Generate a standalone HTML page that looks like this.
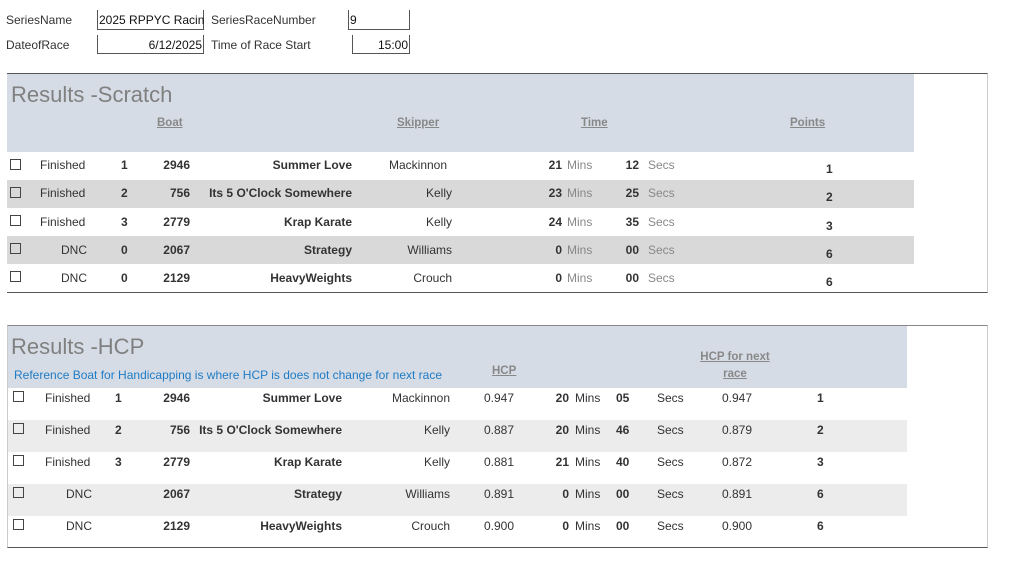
<!DOCTYPE html>
<html><head><meta charset="utf-8">
<style>
body{margin:0;width:1023px;height:568px;background:#fff;position:relative;overflow:hidden;font-family:"Liberation Sans",sans-serif;font-size:12px;color:#333}
.a{position:absolute;white-space:nowrap;line-height:16px;height:16px}
.r{text-align:right}
.c{text-align:center}
.b{font-weight:bold}
.g{color:#888}
.u{text-decoration:underline;color:#888;font-weight:bold;font-size:11.5px}
.box{position:absolute;border:1px solid #555;box-sizing:border-box}
.cb{position:absolute;width:9px;height:9px;border:1px solid #444}
.bg{position:absolute}
</style></head><body>
<div class="a" style="left:6px;top:12px">SeriesName</div>
<div class="box" style="left:97px;top:10px;width:107px;height:20px;border-top:none"></div>
<div class="a" style="left:99px;top:12px;color:#111">2025 RPPYC Racin</div>
<div class="a" style="left:211px;top:12px">SeriesRaceNumber</div>
<div class="box" style="left:348px;top:10px;width:62px;height:20px;border-top:none"></div>
<div class="a" style="left:350px;top:12px;color:#111">9</div>
<div class="a" style="left:6px;top:37px">DateofRace</div>
<div class="box" style="left:97px;top:35px;width:107px;height:19px;border-top:none"></div>
<div class="a r" style="left:100px;width:102px;top:37px;color:#111">6/12/2025</div>
<div class="a" style="left:211px;top:37px">Time of Race Start</div>
<div class="box" style="left:352px;top:35px;width:58px;height:19px;border-top:none"></div>
<div class="a r" style="left:354px;width:54px;top:37px;color:#111">15:00</div>

<!-- Scratch -->
<div class="bg" style="left:7px;top:73px;width:981px;height:220px;border-top:1px solid #555;border-bottom:1px solid #555;border-right:1px solid #ccc;box-sizing:border-box"></div>
<div class="bg" style="left:7px;top:74px;width:907px;height:78px;background:#d6dce5"></div>
<div class="bg" style="left:7px;top:180px;width:907px;height:28px;background:#d9d9d9"></div>
<div class="bg" style="left:7px;top:236px;width:907px;height:28px;background:#d9d9d9"></div>
<div class="a" style="left:11px;top:82px;font-size:22px;line-height:26px;height:26px;color:#808080">Results -Scratch</div>
<div class="a u" style="left:157px;top:115px">Boat</div>
<div class="a u" style="left:397px;top:115px">Skipper</div>
<div class="a u" style="left:581px;top:115px">Time</div>
<div class="a u" style="left:790px;top:115px">Points</div>

<div class="cb" style="left:10px;top:159px"></div><div class="a" style="left:40px;top:157px">Finished</div><div class="a b" style="left:121px;top:157px">1</div><div class="a b r" style="left:140px;width:50px;top:157px">2946</div><div class="a b r" style="left:180px;width:172px;top:157px">Summer Love</div><div class="a" style="left:389px;top:157px">Mackinnon</div><div class="a b r" style="left:530px;width:32px;top:157px">21</div><div class="a g" style="left:567px;top:157px">Mins</div><div class="a b r" style="left:610px;width:29px;top:157px">12</div><div class="a g" style="left:648px;top:157px">Secs</div><div class="a b" style="left:826px;top:161px">1</div>

<div class="cb" style="left:10px;top:187px"></div><div class="a" style="left:40px;top:185px">Finished</div><div class="a b" style="left:121px;top:185px">2</div><div class="a b r" style="left:140px;width:50px;top:185px">756</div><div class="a b r" style="left:180px;width:172px;top:185px">Its 5 O'Clock Somewhere</div><div class="a r" style="left:380px;width:72px;top:185px">Kelly</div><div class="a b r" style="left:530px;width:32px;top:185px">23</div><div class="a g" style="left:567px;top:185px">Mins</div><div class="a b r" style="left:610px;width:29px;top:185px">25</div><div class="a g" style="left:648px;top:185px">Secs</div><div class="a b" style="left:826px;top:189px">2</div>

<div class="cb" style="left:10px;top:215px"></div><div class="a" style="left:40px;top:214px">Finished</div><div class="a b" style="left:121px;top:214px">3</div><div class="a b r" style="left:140px;width:50px;top:214px">2779</div><div class="a b r" style="left:180px;width:172px;top:214px">Krap Karate</div><div class="a r" style="left:380px;width:72px;top:214px">Kelly</div><div class="a b r" style="left:530px;width:32px;top:214px">24</div><div class="a g" style="left:567px;top:214px">Mins</div><div class="a b r" style="left:610px;width:29px;top:214px">35</div><div class="a g" style="left:648px;top:214px">Secs</div><div class="a b" style="left:826px;top:218px">3</div>

<div class="cb" style="left:10px;top:243px"></div><div class="a r" style="left:40px;width:47px;top:242px">DNC</div><div class="a b" style="left:121px;top:242px">0</div><div class="a b r" style="left:140px;width:50px;top:242px">2067</div><div class="a b r" style="left:180px;width:172px;top:242px">Strategy</div><div class="a r" style="left:380px;width:72px;top:242px">Williams</div><div class="a b r" style="left:530px;width:32px;top:242px">0</div><div class="a g" style="left:567px;top:242px">Mins</div><div class="a b r" style="left:610px;width:29px;top:242px">00</div><div class="a g" style="left:648px;top:242px">Secs</div><div class="a b" style="left:826px;top:246px">6</div>

<div class="cb" style="left:10px;top:271px"></div><div class="a r" style="left:40px;width:47px;top:270px">DNC</div><div class="a b" style="left:121px;top:270px">0</div><div class="a b r" style="left:140px;width:50px;top:270px">2129</div><div class="a b r" style="left:180px;width:172px;top:270px">HeavyWeights</div><div class="a r" style="left:380px;width:72px;top:270px">Crouch</div><div class="a b r" style="left:530px;width:32px;top:270px">0</div><div class="a g" style="left:567px;top:270px">Mins</div><div class="a b r" style="left:610px;width:29px;top:270px">00</div><div class="a g" style="left:648px;top:270px">Secs</div><div class="a b" style="left:826px;top:274px">6</div>

<!-- HCP -->
<div class="bg" style="left:7px;top:325px;width:981px;height:223px;border-top:1px solid #888;border-bottom:1px solid #555;border-right:1px solid #ccc;border-left:1px solid #ccc;box-sizing:border-box"></div>
<div class="bg" style="left:8px;top:326px;width:899px;height:62px;background:#d6dce5"></div>
<div class="bg" style="left:8px;top:420px;width:899px;height:32px;background:#ececec"></div>
<div class="bg" style="left:8px;top:484px;width:899px;height:32px;background:#ececec"></div>
<div class="a" style="left:11px;top:334px;font-size:22px;line-height:26px;height:26px;color:#808080">Results -HCP</div>
<div class="a" style="left:14px;top:367px;color:#1f7bc4">Reference Boat for Handicapping is where HCP is does not change for next race</div>
<div class="a u" style="left:492px;top:363px">HCP</div>
<div class="a u c" style="left:690px;width:90px;top:349px">HCP for next</div>
<div class="a u c" style="left:690px;width:90px;top:366px">race</div>

<div class="cb" style="left:13px;top:391px"></div><div class="a" style="left:45px;top:390px">Finished</div><div class="a b" style="left:115px;top:390px">1</div><div class="a b r" style="left:140px;width:50px;top:390px">2946</div><div class="a b r" style="left:170px;width:172px;top:390px">Summer Love</div><div class="a r" style="left:370px;width:80px;top:390px">Mackinnon</div><div class="a" style="left:484px;top:390px">0.947</div><div class="a b r" style="left:540px;width:29px;top:390px">20</div><div class="a" style="left:575px;top:390px">Mins</div><div class="a b" style="left:616px;top:390px">05</div><div class="a" style="left:657px;top:390px">Secs</div><div class="a" style="left:722px;top:390px">0.947</div><div class="a b" style="left:817px;top:390px">1</div>

<div class="cb" style="left:13px;top:423px"></div><div class="a" style="left:45px;top:422px">Finished</div><div class="a b" style="left:115px;top:422px">2</div><div class="a b r" style="left:140px;width:50px;top:422px">756</div><div class="a b r" style="left:170px;width:172px;top:422px">Its 5 O'Clock Somewhere</div><div class="a r" style="left:370px;width:80px;top:422px">Kelly</div><div class="a" style="left:484px;top:422px">0.887</div><div class="a b r" style="left:540px;width:29px;top:422px">20</div><div class="a" style="left:575px;top:422px">Mins</div><div class="a b" style="left:616px;top:422px">46</div><div class="a" style="left:657px;top:422px">Secs</div><div class="a" style="left:722px;top:422px">0.879</div><div class="a b" style="left:817px;top:422px">2</div>

<div class="cb" style="left:13px;top:455px"></div><div class="a" style="left:45px;top:454px">Finished</div><div class="a b" style="left:115px;top:454px">3</div><div class="a b r" style="left:140px;width:50px;top:454px">2779</div><div class="a b r" style="left:170px;width:172px;top:454px">Krap Karate</div><div class="a r" style="left:370px;width:80px;top:454px">Kelly</div><div class="a" style="left:484px;top:454px">0.881</div><div class="a b r" style="left:540px;width:29px;top:454px">21</div><div class="a" style="left:575px;top:454px">Mins</div><div class="a b" style="left:616px;top:454px">40</div><div class="a" style="left:657px;top:454px">Secs</div><div class="a" style="left:722px;top:454px">0.872</div><div class="a b" style="left:817px;top:454px">3</div>

<div class="cb" style="left:13px;top:487px"></div><div class="a r" style="left:45px;width:47px;top:486px">DNC</div><div class="a b r" style="left:140px;width:50px;top:486px">2067</div><div class="a b r" style="left:170px;width:172px;top:486px">Strategy</div><div class="a r" style="left:370px;width:80px;top:486px">Williams</div><div class="a" style="left:484px;top:486px">0.891</div><div class="a b r" style="left:540px;width:29px;top:486px">0</div><div class="a" style="left:575px;top:486px">Mins</div><div class="a b" style="left:616px;top:486px">00</div><div class="a" style="left:657px;top:486px">Secs</div><div class="a" style="left:722px;top:486px">0.891</div><div class="a b" style="left:817px;top:486px">6</div>

<div class="cb" style="left:13px;top:519px"></div><div class="a r" style="left:45px;width:47px;top:518px">DNC</div><div class="a b r" style="left:140px;width:50px;top:518px">2129</div><div class="a b r" style="left:170px;width:172px;top:518px">HeavyWeights</div><div class="a r" style="left:370px;width:80px;top:518px">Crouch</div><div class="a" style="left:484px;top:518px">0.900</div><div class="a b r" style="left:540px;width:29px;top:518px">0</div><div class="a" style="left:575px;top:518px">Mins</div><div class="a b" style="left:616px;top:518px">00</div><div class="a" style="left:657px;top:518px">Secs</div><div class="a" style="left:722px;top:518px">0.900</div><div class="a b" style="left:817px;top:518px">6</div>
</body></html>
